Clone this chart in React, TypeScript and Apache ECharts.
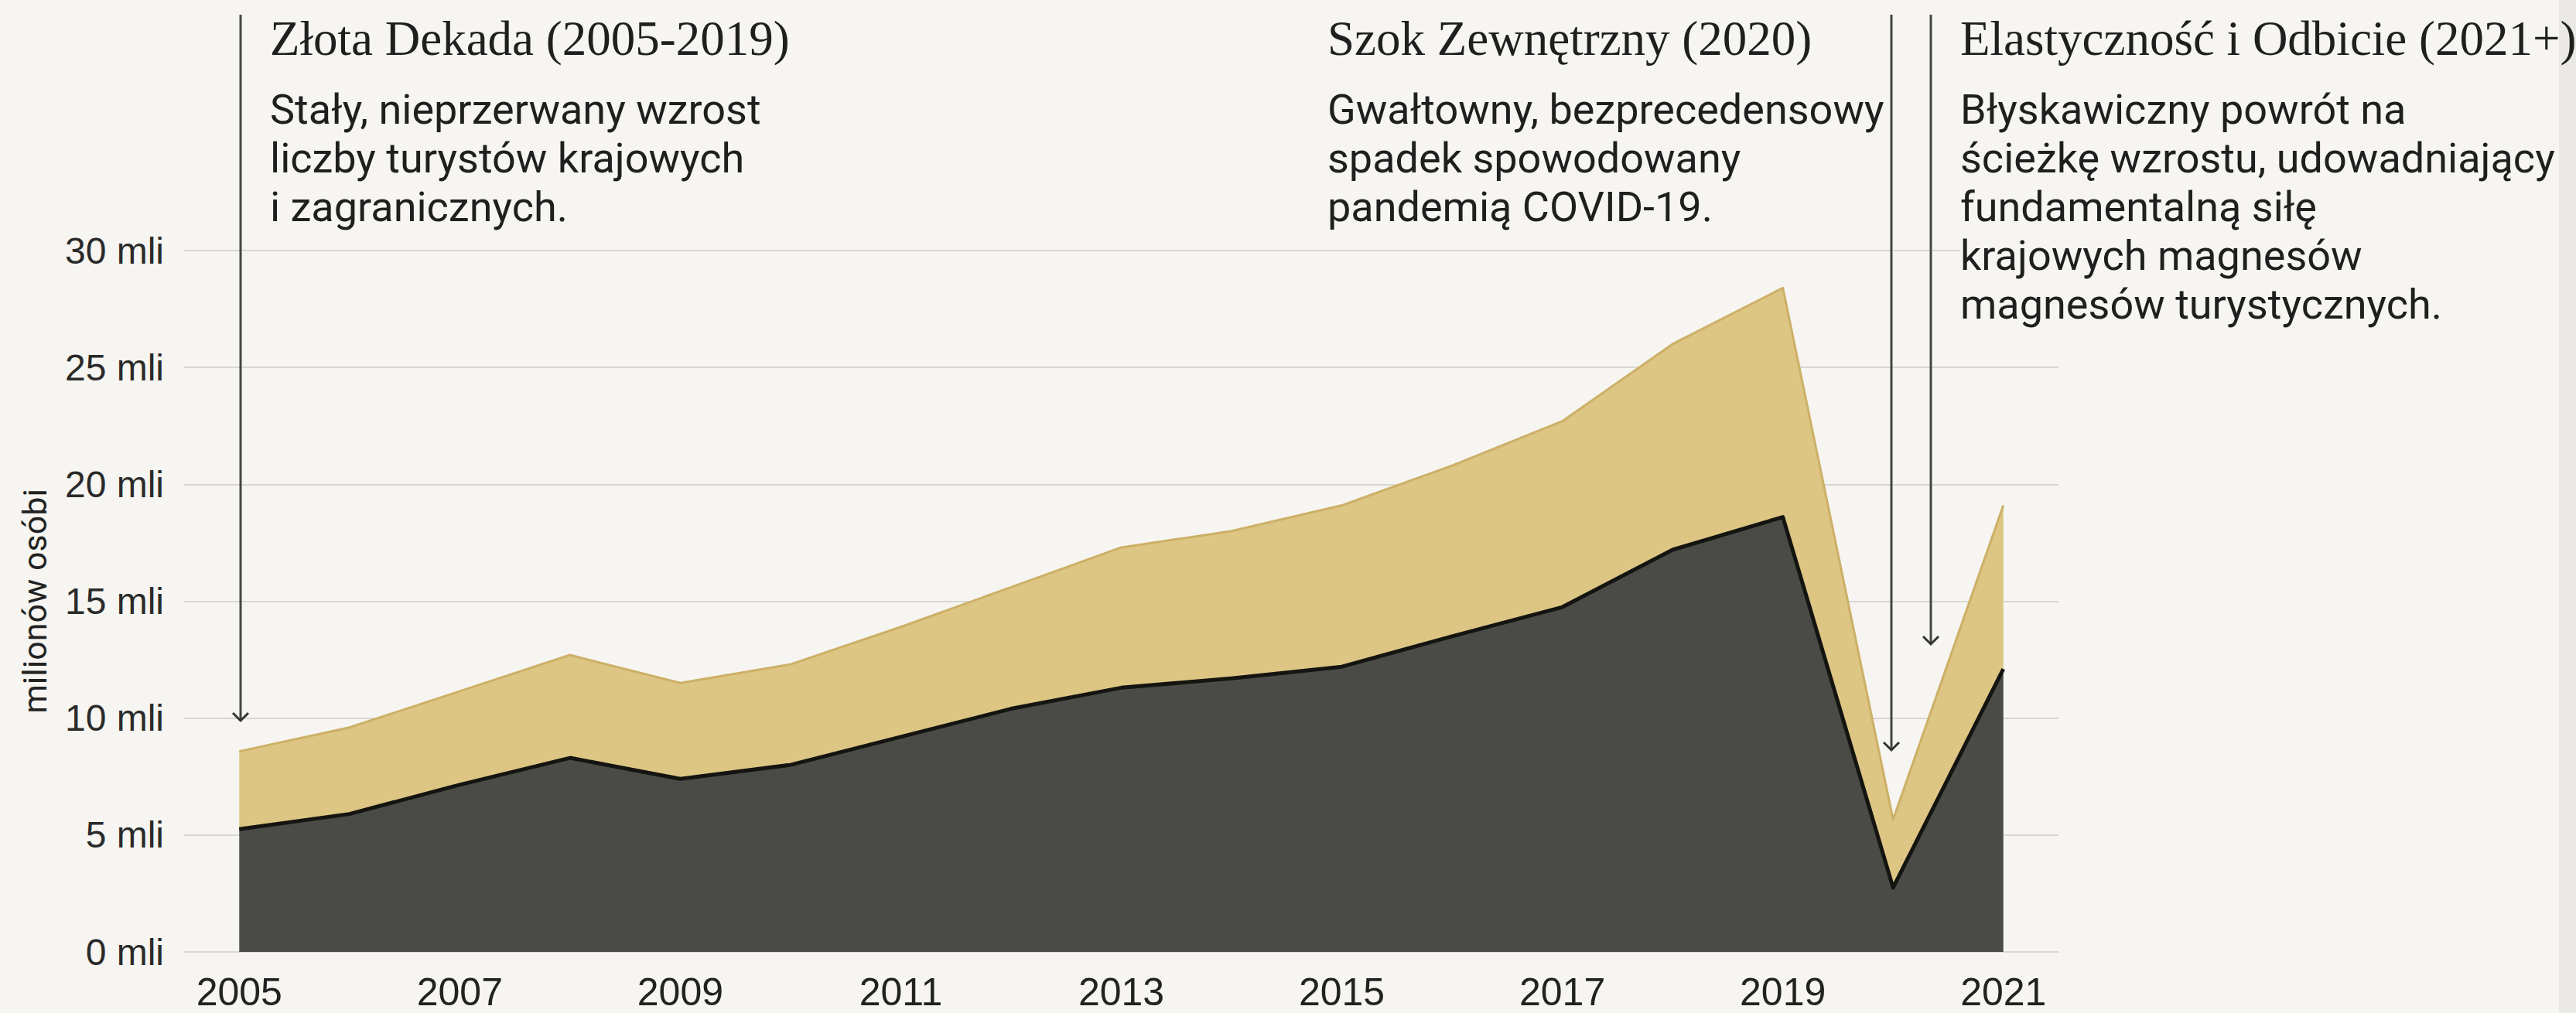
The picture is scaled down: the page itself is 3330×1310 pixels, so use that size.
import React, { useEffect, useRef } from "react";
import * as echarts from "echarts";

const years = ["2005","2006","2007","2008","2009","2010","2011","2012","2013","2014","2015","2016","2017","2018","2019","2020","2021"];
// turyści krajowi (mln)
const domestic = [5.25, 5.9, 7.15, 8.3, 7.4, 8.0, 9.2, 10.4, 11.3, 11.7, 12.2, 13.5, 14.75, 17.2, 18.6, 2.75, 12.1];
// turyści zagraniczni (mln), nakładani na krajowych
const foreign = [3.33, 3.7, 4.0, 4.4, 4.1, 4.3, 4.7, 5.2, 6.0, 6.3, 6.9, 7.3, 7.95, 8.8, 9.8, 2.91, 7.0];

const yAxisName = "milionów osóbi";
const yUnit = "mli";

const titles = ["Złota Dekada (2005-2019)", "Szok Zewnętrzny (2020)", "Elastyczność i Odbicie (2021+)"];
const desc1 = ["Stały, nieprzerwany wzrost", "liczby turystów krajowych", "i zagranicznych."];
const desc2 = ["Gwałtowny, bezprecedensowy", "spadek spowodowany", "pandemią COVID-19."];
const desc3 = ["Błyskawiczny powrót na", "ścieżkę wzrostu, udowadniający", "fundamentalną siłę", "krajowych magnesów", "magnesów turystycznych."];

const BG = "#F6F5F1";
const INK = "#1f1f1f";
const SERIF = "'Liberation Serif', 'Times New Roman', serif";
const SANS = "Roboto, 'Liberation Sans', sans-serif";
const AXISF = "'Liberation Sans', Arial, sans-serif";

export default function App() {
  const ref = useRef<HTMLDivElement>(null);
  useEffect(() => {
    if (!ref.current) return;
    const chart = echarts.init(ref.current, null, { renderer: "svg" });

    const graphics: any[] = [];
    const colX = [349, 1716, 2534];
    titles.forEach((t, i) => {
      graphics.push({
        type: "text", x: colX[i], y: 50, z: 100,
        style: { text: t, font: `400 63px ${SERIF}`, fill: INK, verticalAlign: "middle", textAlign: "left" },
      });
    });
    const lineYs = [141, 204, 267, 330, 393];
    [desc1, desc2, desc3].forEach((d, i) => {
      d.forEach((line, j) => {
        const st: any = { text: line, font: `400 54px ${SANS}`, fill: INK, verticalAlign: "middle", textAlign: "left" };
        if (i === 2 && j === 3) { st.backgroundColor = BG; st.padding = [2, 6, 2, 0]; }
        graphics.push({ type: "text", x: colX[i], y: lineYs[j], z: 100, style: st });
      });
    });
    // arrows
    const arrows = [
      { x: 311, y1: 19, y2: 932 },
      { x: 2445, y1: 19, y2: 970 },
      { x: 2496, y1: 19, y2: 833 },
    ];
    arrows.forEach((a) => {
      graphics.push({ type: "line", z: 90, shape: { x1: a.x, y1: a.y1, x2: a.x, y2: a.y2 }, style: { stroke: "#444", lineWidth: 3 } });
      graphics.push({ type: "polyline", z: 90, shape: { points: [[a.x - 10, a.y2 - 10], [a.x, a.y2], [a.x + 10, a.y2 - 10]] }, style: { stroke: "#333", lineWidth: 3, fill: "none" } });
    });
    // page edge
    graphics.push({ type: "rect", z: 1, shape: { x: 3308, y: 0, width: 22, height: 1310 }, style: { fill: "#ebe9e5" } });

    chart.setOption({
      animation: false,
      backgroundColor: BG,
      grid: { left: 238, right: 669, top: 324, bottom: 79 },
      xAxis: {
        type: "category",
        data: years,
        boundaryGap: true,
        axisLine: { show: false },
        axisTick: { show: false },
        axisLabel: { interval: 1, fontSize: 50, lineHeight: 48, fontFamily: AXISF, color: "#222", margin: 28 },
        splitLine: { show: false },
      },
      yAxis: {
        type: "value",
        min: 0, max: 30, interval: 5,
        name: yAxisName,
        nameLocation: "middle",
        nameRotate: 90,
        nameGap: 172,
        nameTextStyle: { fontSize: 43, fontFamily: SANS, color: "#222" },
        axisLine: { show: false },
        axisTick: { show: false },
        axisLabel: { formatter: (v: number) => `${v} ${yUnit}`, fontSize: 48, fontFamily: AXISF, color: "#2a2a2a", margin: 26 },
        splitLine: { lineStyle: { color: "#d8d7d2", width: 2 } },
      },
      series: [
        {
          name: "Krajowi",
          type: "line",
          stack: "total",
          data: domestic,
          smooth: false,
          showSymbol: false,
          z: 4,
          lineStyle: { color: "#141410", width: 5, join: "round" },
          areaStyle: { color: "#4a4a47", opacity: 1 },
        },
        {
          name: "Zagraniczni",
          type: "line",
          stack: "total",
          data: foreign,
          smooth: false,
          showSymbol: false,
          z: 3,
          lineStyle: { color: "#cdb067", width: 3, join: "round" },
          areaStyle: { color: "#DDC584", opacity: 1 },
        },
      ],
      graphic: graphics,
    });
    return () => chart.dispose();
  }, []);
  return <div ref={ref} style={{ position: "fixed", left: 0, top: 0, width: 3330, height: 1310 }} />;
}
